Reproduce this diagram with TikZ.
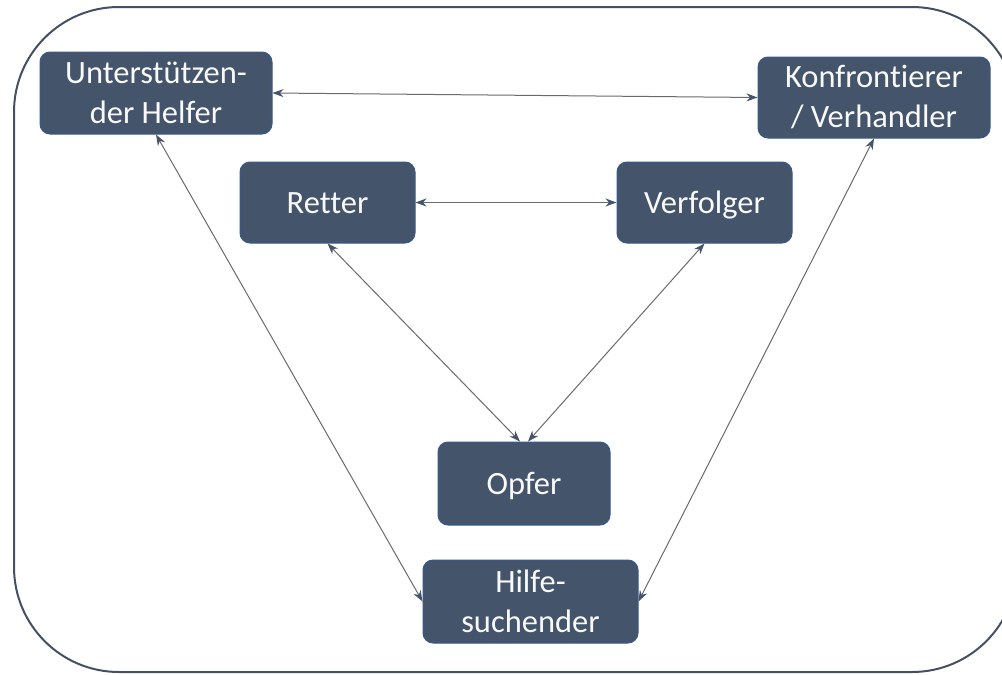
\documentclass[tikz,border=0pt]{standalone}
\usepackage{fontspec}
\setmainfont[Ligatures=NoCommon]{Carlito}
\usetikzlibrary{arrows.meta}
\definecolor{boxfill}{HTML}{44546A}
\definecolor{boxedge}{HTML}{3A5A8C}
\definecolor{linegray}{HTML}{6A6A6A}
\definecolor{frame}{HTML}{445063}
\begin{document}
\begin{tikzpicture}[x=1pt,y=-1pt,
  box/.style={draw=boxedge, fill=boxfill, rounded corners=10pt, line width=1pt,
    text=white!95!gray, font=\fontsize{32.5}{40}\selectfont, align=center, inner sep=0pt},
  oneline/.style={text height=22pt, text depth=0pt},
  link/.style={draw=linegray, line width=1pt,
    {Stealth[length=11pt,width=8pt,color=boxfill]}-{Stealth[length=11pt,width=8pt,color=boxfill]}}
]
\useasboundingbox (0,0) rectangle (1002,675);
\clip (0,0) rectangle (1002,675);
\draw[frame, line width=2pt, rounded corners=105pt] (14,7) rectangle (1017,672);

\node[box, minimum width=232pt, minimum height=82pt] (helfer) at (156,93) {Unterstützen-\\der Helfer};
\node[box, minimum width=232pt, minimum height=81pt] (konf) at (874,97.5) {Konfrontierer\\/ Verhandler};
\node[box, oneline, minimum width=175pt, minimum height=81pt] (retter) at (327.5,202.5) {Retter};
\node[box, oneline, minimum width=175pt, minimum height=81pt] (verf) at (704.5,202.5) {Verfolger};
\node[box, oneline, minimum width=172pt, minimum height=83pt] (opfer) at (524,483.5) {Opfer};
\node[box, minimum width=215pt, minimum height=83pt] (hilfe) at (530.5,601.5) {Hilfe-\\suchender};

\draw[link] (helfer.east) -- (konf.west);
\draw[link] (retter.east) -- (verf.west);
\draw[link] (helfer.south) -- (hilfe.west);
\draw[link] (konf.south) -- (hilfe.east);
\draw[link] (retter.south) -- ([xshift=-4pt]opfer.north);
\draw[link] (verf.south) -- ([xshift=4pt]opfer.north);
\end{tikzpicture}
\end{document}
